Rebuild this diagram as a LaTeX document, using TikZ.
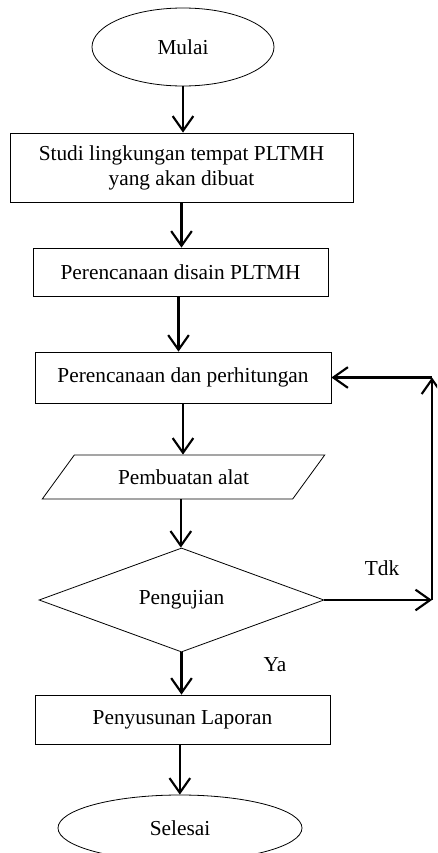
\documentclass[tikz,border=0pt]{standalone}
\usepackage{fontspec}
\setmainfont{Liberation Serif}
\usetikzlibrary{shapes.geometric,arrows.meta}

\tikzset{
  flowbox/.style={draw, line width=0.6pt, rectangle, inner sep=0pt, align=center},
  flowend/.style={draw, line width=0.6pt, ellipse, inner sep=0pt},
  flowio/.style={draw, line width=0.6pt, trapezium, trapezium left angle=38,
    trapezium right angle=142, trapezium stretches=true, inner sep=0pt},
  flowtest/.style={draw, line width=0.6pt, diamond, inner sep=0pt},
  flowarr/.style={line width=1.6pt, -{Straight Barb[length=11pt,width=15.5pt,line width=1.6pt]}}
}

\begin{document}
\begin{tikzpicture}[x=0.75pt,y=-0.75pt]
            \useasboundingbox (0,0) rectangle (437,853);
            \clip (0,0) rectangle (437,853);
            {\fontsize{16}{18.75}\selectfont

            % Marking start Mulai
            \node [flowend, minimum width=136.5pt, minimum height=58.5pt] (mulai) at (183,47) {Mulai};%

            % Marking box studi
            \node [flowbox, minimum width=257.25pt, minimum height=51.75pt] (studi) at (181.5,167.5)
                {Studi lingkungan tempat PLTMH\\yang akan dibuat};%

            % Marking box disain
            \node [flowbox, minimum width=221.25pt, minimum height=36pt] (disain) at (180.5,272)
                {Perencanaan disain PLTMH};%

            % Marking box hitung
            \node [flowbox, minimum width=222pt, minimum height=38.25pt] (hitung) at (183,377.5)
                {Perencanaan dan perhitungan};%

            % Marking parallelogram alat
            \node [flowio, minimum width=212.25pt, minimum height=33pt] (alat) at (183.5,477)
                {Pembuatan alat};%

            % Marking diamond uji
            \node [flowtest, minimum width=213.75pt, minimum height=64.5pt] (uji) at (181.5,600)
                {Pengujian};%

            % Marking box laporan
            \node [flowbox, minimum width=221.25pt, minimum height=36.75pt] (laporan) at (182.5,719.5)
                {Penyusunan Laporan};%

            % Marking end Selesai
            \node [flowend, minimum width=183pt, minimum height=49.5pt] (selesai) at (180,828) {Selesai};%

            % Marking labels
            \node (tdk) at (382,568) {Tdk};%
            \node (ya) at (275,665) {Ya};%

            % Marking corners of loop
            \coordinate (loopa) at (432,600);%
            \coordinate (loopb) at (432,377.5);%

            % Drawing arrows down
            \draw [flowarr] (mulai.south) -- (mulai.south |- studi.north);%
            \draw [flowarr] (studi.south) -- (studi.south |- disain.north);%
            \draw [flowarr] ([xshift=-1.5pt]disain.south) -- ([xshift=-1.5pt]disain.south |- hitung.north);%
            \draw [flowarr] (hitung.south) -- (hitung.south |- alat.north);%
            \draw [flowarr] ([xshift=-2pt]alat.south) -- ([xshift=-2pt]alat.south |- uji.north);%
            \draw [flowarr] (uji.south) -- (uji.south |- laporan.north);%
            \draw [flowarr] ([xshift=-2pt]laporan.south) -- ([xshift=-2pt]laporan.south |- selesai.north);%

            % Drawing loop back
            \draw [flowarr] (uji.east) -- (loopa);%
            \draw [flowarr] (loopa) -- (loopb);%
            \draw [flowarr] (loopb) -- (hitung.east);%
            }
        \end{tikzpicture}
\end{document}
